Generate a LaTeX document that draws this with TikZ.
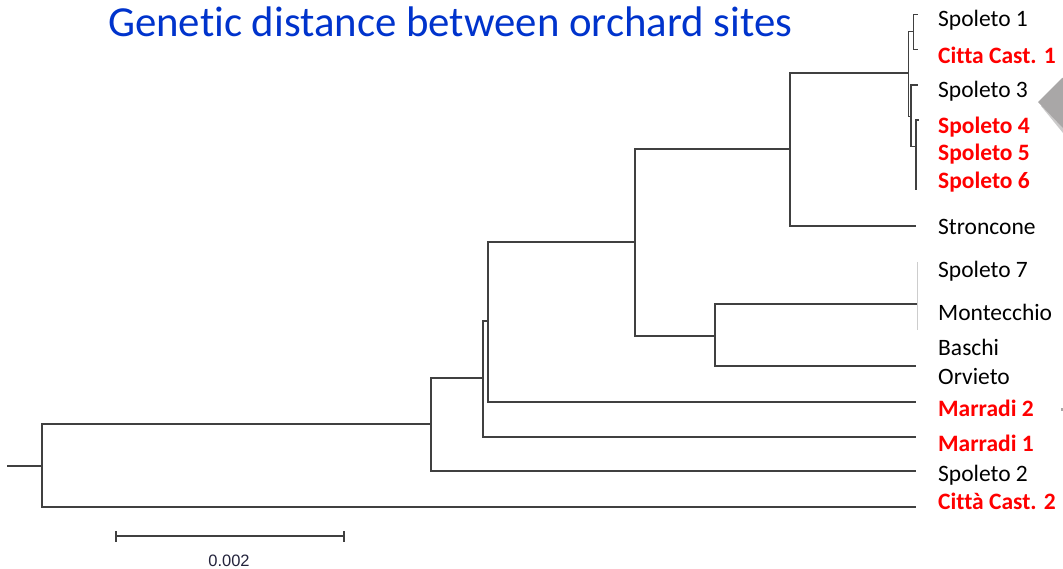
\documentclass[tikz,border=0pt]{standalone}
\usepackage{fontspec}
\setmainfont{Carlito}[Ligatures=NoCommon]
\newfontfamily\scalefont{Liberation Sans}
\definecolor{titleblue}{RGB}{0,51,204}
\definecolor{treegray}{RGB}{64,64,64}
\definecolor{labred}{RGB}{255,0,0}
\definecolor{arrowgray}{RGB}{169,167,167}
\definecolor{faintgray}{RGB}{205,205,205}
\definecolor{scaletext}{RGB}{35,35,60}
\begin{document}
\begin{tikzpicture}[x=1pt,y=-1pt,
  branch/.style={draw=treegray,line width=2pt},
  thinbranch/.style={draw=treegray,line width=1.5pt},
  leafblack/.style={anchor=base west,inner sep=0pt,text=black,font=\fontsize{23.5}{28}\selectfont},
  leafred/.style={anchor=base west,inner sep=0pt,text=labred,font=\fontsize{23.5}{28}\selectfont\bfseries},
]
\useasboundingbox (0,0) rectangle (1063,569);

% title
\node[anchor=base west,inner sep=0pt,text=titleblue,font=\fontsize{42.8}{50}\selectfont] (title) at (108,37) {Genetic distance between orchard sites};

% internal nodes
\coordinate (r0) at (7,466);
\coordinate (R) at (42,466);
\coordinate (N1) at (431,424);
\coordinate (N2) at (483,378);
\coordinate (N3) at (488,321);
\coordinate (N4) at (635,242);
\coordinate (N5) at (790,149);
\coordinate (N6) at (715,335.7);
\coordinate (N7) at (908.3,73);
\coordinate (N9) at (913.3,31.7);
\coordinate (N10) at (911,116.7);
\coordinate (N11) at (916,146.7);
% tips
\coordinate (tSp1) at (917.5,14.3);
\coordinate (tCC1) at (917.5,49.3);
\coordinate (tSp3) at (917.5,85);
\coordinate (tSp4) at (918.5,120);
\coordinate (tSp6) at (916,190);
\coordinate (tStr) at (916,225.7);
\coordinate (tSM) at (917.7,304);
\coordinate (tSMtop) at (917.7,262);
\coordinate (tSMbot) at (917.7,330);
\coordinate (tBO) at (916,366);
\coordinate (tMar2) at (916,402);
\coordinate (tMar1) at (916,437);
\coordinate (tSp2) at (916,471);
\coordinate (tCC2) at (916,507);

% branches
\draw[branch] (r0) -- (R);
\draw[branch] (R) |- (N1);
\draw[branch] (R) |- (tCC2);
\draw[branch] (N1) |- (N2);
\draw[branch] (N1) |- (tSp2);
\draw[branch] (N2) |- (N3);
\draw[branch] (N2) |- (tMar1);
\draw[branch] (N3) |- (N4);
\draw[branch] (N3) |- (tMar2);
\draw[branch] (N4) |- (N5);
\draw[branch] (N4) |- (N6);
\draw[branch] (N5) |- (N7);
\draw[branch] (N5) |- (tStr);
\draw[branch] (N6) |- (tSM);
\draw[branch] (N6) |- (tBO);
\draw[draw=faintgray,line width=1pt] (tSMtop) -- (tSMbot);
\draw[thinbranch] (N7) |- (N9);
\draw[thinbranch] (N7) |- (N10);
\draw[thinbranch] (N9) |- (tSp1);
\draw[thinbranch] (N9) |- (tCC1);
\draw[thinbranch] (N10) |- (tSp3);
\draw[thinbranch] (N10) |- (N11);
\draw[thinbranch] (N11) |- (tSp4);
\draw[thinbranch] (N11) |- (tSp6);

% leaf labels
\node[leafblack] (lSp1) at (938,26.5) {Spoleto 1};
\node[leafred]   (lCC1) at (938,64) {Citta Cast. 1};
\node[leafblack] (lSp3) at (938,98) {Spoleto 3};
\node[leafred]   (lSp4) at (938,133.5) {Spoleto 4};
\node[leafred]   (lSp5) at (938,161) {Spoleto 5};
\node[leafred]   (lSp6) at (938,189) {Spoleto 6};
\node[leafblack] (lStr) at (938,234.5) {Stroncone};
\node[leafblack] (lSp7) at (938,277.5) {Spoleto 7};
\node[leafblack] (lMon) at (938,321) {Montecchio};
\node[leafblack] (lBas) at (938,355.5) {Baschi};
\node[leafblack] (lOrv) at (938,384) {Orvieto};
\node[leafred]   (lMar2) at (938,416.5) {Marradi 2};
\node[leafred]   (lMar1) at (938,451.5) {Marradi 1};
\node[leafblack] (lSp2) at (938,481) {Spoleto 2};
\node[leafred]   (lCC2) at (938,509.5) {Città Cast. 2};

% scale bar
\coordinate (sbL) at (116,536);
\coordinate (sbR) at (344,536);
\draw[treegray,line width=1.6pt] (sbL) -- (sbR);
\draw[treegray,line width=1.6pt] ([yshift=-5.5pt]sbL) -- ([yshift=5.5pt]sbL);
\draw[treegray,line width=1.6pt] ([yshift=-5.5pt]sbR) -- ([yshift=5.5pt]sbR);
\node[anchor=base,inner sep=0pt,text=scaletext,font=\scalefont\fontsize{16.5}{19}\selectfont] (sblabel) at (229,566.5) {0.002};

% grey arrow tip at right edge
\fill[arrowgray!60] (1041,106) -- (1063,84) -- (1063,133) -- cycle;
\fill[arrowgray] (1038,102) -- (1062,78) -- (1063,78) -- (1063,128) -- cycle;
\fill[arrowgray] (1060.5,407.5) rectangle (1062.5,410.5);
\end{tikzpicture}
\end{document}
